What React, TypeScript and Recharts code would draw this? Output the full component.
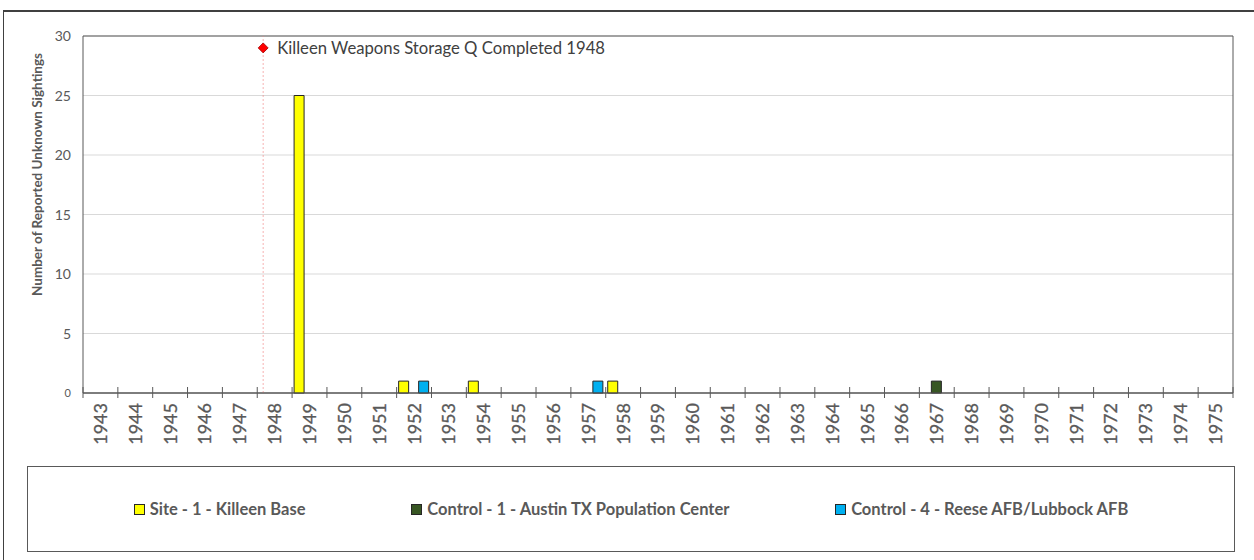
import React from 'react';
import {
  ComposedChart,
  Bar,
  XAxis,
  YAxis,
  CartesianGrid,
  Legend,
  ReferenceLine,
  ReferenceDot,
  ReferenceArea,
} from 'recharts';

// ---------- data ----------
const years = [
  '1943', '1944', '1945', '1946', '1947', '1948', '1949', '1950', '1951', '1952', '1953',
  '1954', '1955', '1956', '1957', '1958', '1959', '1960', '1961', '1962', '1963', '1964',
  '1965', '1966', '1967', '1968', '1969', '1970', '1971', '1972', '1973', '1974', '1975',
];
const siteKilleen = [0, 0, 0, 0, 0, 0, 25, 0, 0, 1, 0, 1, 0, 0, 0, 1, 0, 0, 0, 0, 0, 0, 0, 0, 0, 0, 0, 0, 0, 0, 0, 0, 0];
const controlAustin = [0, 0, 0, 0, 0, 0, 0, 0, 0, 0, 0, 0, 0, 0, 0, 0, 0, 0, 0, 0, 0, 0, 0, 0, 1, 0, 0, 0, 0, 0, 0, 0, 0];
const controlReese = [0, 0, 0, 0, 0, 0, 0, 0, 0, 1, 0, 0, 0, 0, 1, 0, 0, 0, 0, 0, 0, 0, 0, 0, 0, 0, 0, 0, 0, 0, 0, 0, 0];
const yTicks = [0, 5, 10, 15, 20, 25, 30];
const seriesNames = [
  'Site - 1 - Killeen Base',
  'Control - 1 - Austin TX Population Center',
  'Control - 4 - Reese AFB/Lubbock AFB',
];
const seriesKeys = ['site', 'austin', 'reese'];
const seriesColors = ['#FFFF00', '#375623', '#00B0F0'];
const eventYear = 1948.17;
const eventValue = 29;
const eventLabel = 'Killeen Weapons Storage Q Completed 1948';
const yAxisTitle = 'Number of Reported Unknown Sightings';

const data = years.map((year, i) => ({
  year,
  site: siteKilleen[i],
  austin: controlAustin[i],
  reese: controlReese[i],
}));

// ---------- layout ----------
const CHART_W = 1254;
const CHART_H = 560;
const MARGIN = { top: 36, right: 21, bottom: 8, left: 0 };
const Y_W = 83;
const X_H = 73;
const PLOT_W = CHART_W - MARGIN.left - MARGIN.right - Y_W;
const BAND = PLOT_W / years.length;
const FONT = 'Lato, "Open Sans", sans-serif';
const TEXT = '#595959';
const AXIS = '#595959';

const YearTick = (props: any) => {
  const { x, y, payload, index } = props;
  const half = BAND / 2;
  const ty = y + 10;
  return (
    <g>
      <line x1={x - half} x2={x - half} y1={y - 6} y2={y + 5} stroke={AXIS} strokeWidth={1} />
      {index === years.length - 1 && (
        <line x1={x + half} x2={x + half} y1={y - 6} y2={y + 5} stroke={AXIS} strokeWidth={1} />
      )}
      <text
        x={x}
        y={ty}
        dy="0.36em"
        textAnchor="end"
        transform={`rotate(-90 ${x} ${ty})`}
        fill={TEXT}
        fontSize={18}
        fontFamily={FONT}
        stroke={TEXT}
        strokeWidth={0.3}
      >
        {payload.value}
      </text>
    </g>
  );
};

const ValueTick = (props: any) => {
  const { x, y, payload } = props;
  return (
    <text
      x={x}
      y={y}
      dy="0.36em"
      textAnchor="end"
      fill={TEXT}
      fontSize={payload.value === 0 ? 11 : 14}
      fontFamily={FONT}
    >
      {payload.value}
    </text>
  );
};

const renderYLabel = (props: any) => {
  const vb = props.viewBox || { x: 0, y: MARGIN.top, width: Y_W, height: 357 };
  const cx = vb.x + 37;
  const cy = vb.y + vb.height / 2 - 40;
  return (
    <text
      x={cx}
      y={cy}
      dy="0.36em"
      textAnchor="middle"
      transform={`rotate(-90 ${cx} ${cy})`}
      fill={TEXT}
      fontSize={13.5}
      fontWeight={700}
      fontFamily={FONT}
    >
      {yAxisTitle}
    </text>
  );
};

const diamond = (props: any) => {
  const { cx, cy } = props;
  const s = 5;
  return (
    <path
      d={`M${cx},${cy - s} L${cx + s},${cy} L${cx},${cy + s} L${cx - s},${cy} Z`}
      fill="#FF0000"
      stroke="#A00000"
      strokeWidth={0.8}
    />
  );
};

const renderLegend = () => (
  <div
    style={{
      marginLeft: 27,
      width: 1208,
      height: 86,
      boxSizing: 'border-box',
      border: '1.5px solid #595959',
      display: 'flex',
      alignItems: 'center',
      justifyContent: 'space-evenly',
      fontFamily: FONT,
      fontWeight: 700,
      fontSize: 16.5,
      color: TEXT,
      background: '#fff',
    }}
  >
    {seriesNames.map((name, i) => (
      <div key={name} style={{ display: 'flex', alignItems: 'center' }}>
        <span
          style={{
            display: 'inline-block',
            width: 9,
            height: 9,
            background: seriesColors[i],
            border: '1px solid #262626',
            marginRight: 5,
          }}
        />
        <span>{name}</span>
      </div>
    ))}
  </div>
);

export default function App() {
  return (
    <div style={{ position: 'fixed', left: 0, top: 0, width: CHART_W, height: CHART_H, background: '#fff', overflow: 'hidden' }}>
      <div
        style={{
          position: 'absolute',
          left: 3,
          top: 10,
          width: 1400,
          height: 700,
          borderTop: '2px solid #404040',
          borderLeft: '1.5px solid #404040',
          boxSizing: 'border-box',
        }}
      />
      <ComposedChart width={CHART_W} height={CHART_H} data={data} margin={MARGIN} barSize={10} barGap={0}>
        <CartesianGrid xAxisId="cat" vertical={false} stroke="#D9D9D9" />
        <XAxis
          xAxisId="cat"
          dataKey="year"
          interval={0}
          tickLine={false}
          tickSize={0}
          tickMargin={0}
          height={X_H}
          axisLine={{ stroke: AXIS, strokeWidth: 1 }}
          tick={<YearTick />}
        />
        <XAxis xAxisId="num" type="number" dataKey="x" domain={[1943, 1976]} allowDataOverflow hide />
        <YAxis
          domain={[0, 30]}
          ticks={yTicks}
          width={Y_W}
          tickLine={false}
          axisLine={false}
          tickSize={0}
          tickMargin={12}
          tick={<ValueTick />}
          label={renderYLabel}
        />
        <ReferenceArea
          xAxisId="num"
          x1={1943}
          x2={1976}
          y1={0}
          y2={30}
          fill="none"
          fillOpacity={0}
          stroke={AXIS}
          strokeWidth={1}
        />
        {seriesKeys.map((k, i) => (
          <Bar
            key={k}
            xAxisId="cat"
            dataKey={k}
            name={seriesNames[i]}
            fill={seriesColors[i]}
            stroke="#262626"
            strokeWidth={1}
            isAnimationActive={false}
          />
        ))}
        <ReferenceLine
          xAxisId="num"
          x={eventYear}
          stroke="#F08080"
          strokeOpacity={0.6}
          strokeDasharray="2 2"
        />
        <ReferenceDot
          xAxisId="num"
          x={eventYear}
          y={eventValue}
          r={5}
          shape={diamond}
          label={{ value: eventLabel, position: 'right', offset: 9, fill: '#404040', fontSize: 16.7, fontFamily: FONT }}
        />
        <Legend verticalAlign="bottom" content={renderLegend} />
      </ComposedChart>
    </div>
  );
}
